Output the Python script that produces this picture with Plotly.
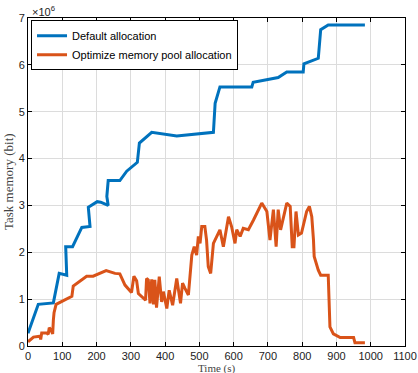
import plotly.graph_objects as go

# Time (s) and task memory (x10^6 bit)
default_t = [0, 30, 74, 91, 113, 110, 130, 157, 181, 176, 202, 212, 234, 230, 234, 268, 288, 319, 325, 361,
             434, 541, 546, 560, 653, 657, 730, 755, 803, 805, 847, 854, 876, 983]
default_v = [0.27, 0.89, 0.92, 1.55, 1.51, 2.12, 2.12, 2.53, 2.55, 2.96, 3.08, 3.07, 3.0, 3.19, 3.53, 3.53, 3.73, 3.92, 4.33, 4.56,
             4.48, 4.56, 5.18, 5.53, 5.53, 5.63, 5.73, 5.85, 5.85, 6.02, 6.14, 6.75, 6.85, 6.85]

opt_t = [0, 16, 35, 37, 40, 54, 59, 62, 67, 72, 74, 76, 82, 108, 128, 132, 171, 190, 228, 254, 268, 283, 298, 302,
         309, 317, 322, 337, 343, 346, 351, 356, 361, 366, 370, 375, 383, 390, 395, 405, 412, 422, 434, 445, 451,
         458, 468, 478, 485, 492, 497, 502, 507, 516, 521, 526, 533, 541, 560, 570, 585, 594, 604, 609, 619, 628,
         643, 658, 682, 697, 706, 716, 724, 730, 737, 755, 765, 771, 776, 782, 789, 798, 813, 821, 828, 833, 835,
         847, 854, 876, 881, 891, 911, 950, 954, 983]
opt_v = [0.09, 0.19, 0.21, 0.14, 0.28, 0.28, 0.25, 0.39, 0.34, 0.26, 0.55, 0.71, 0.89, 0.98, 1.06, 1.28, 1.49, 1.49,
         1.61, 1.55, 1.54, 1.30, 1.18, 1.14, 1.49, 1.39, 1.12, 1.01, 0.98, 1.44, 1.41, 0.91, 1.42, 0.89, 1.41, 0.82,
         1.48, 0.94, 1.16, 0.80, 1.19, 0.87, 1.44, 0.91, 1.34, 1.23, 1.09, 1.94, 2.12, 1.94, 2.34, 2.19, 2.55, 2.55,
         2.26, 1.69, 1.55, 2.19, 2.48, 2.12, 2.76, 2.55, 2.19, 2.48, 2.34, 2.51, 2.48, 2.69, 3.05, 2.87, 2.26, 2.91,
         2.12, 2.91, 2.48, 3.05, 2.98, 2.12, 2.12, 2.87, 2.37, 2.41, 2.87, 2.98, 2.76, 2.26, 1.91, 1.62, 1.51, 1.51,
         0.41, 0.26, 0.18, 0.18, 0.07, 0.07]

x_ticks = list(range(0, 1101, 100))
y_ticks = list(range(0, 8))

fig = go.Figure()
fig.add_trace(go.Scatter(x=default_t, y=default_v, mode="lines", name="Default allocation",
                         line=dict(color="#0072BD", width=3)))
fig.add_trace(go.Scatter(x=opt_t, y=opt_v, mode="lines", name="Optimize memory pool allocation",
                         line=dict(color="#D95319", width=3)))

axis_common = dict(showgrid=True, gridcolor="#DCDCDC", gridwidth=1, zeroline=False,
                   showline=True, linecolor="black", linewidth=1, mirror="ticks",
                   ticks="inside", ticklen=4, tickcolor="black", automargin=False,
                   tickfont=dict(family="Liberation Sans", size=11, color="#222"))

fig.update_layout(
    width=418, height=373,
    margin=dict(l=28, r=13, t=18, b=27),
    paper_bgcolor="white", plot_bgcolor="white",
    xaxis=dict(range=[0, 1100], tickvals=x_ticks, **axis_common),
    yaxis=dict(range=[0, 7], tickvals=y_ticks, **axis_common),
    legend=dict(x=0.008, y=0.993, xanchor="left", yanchor="top",
                bgcolor="white", bordercolor="black", borderwidth=1,
                font=dict(family="Liberation Sans", size=11, color="black"),
                tracegroupgap=0, itemwidth=30),
    showlegend=True,
)
fig.add_annotation(text="×10<sup>6</sup>", xref="paper", yref="paper", x=0.0, y=1.0,
                   xanchor="left", yanchor="bottom", showarrow=False, yshift=-2, xshift=2,
                   font=dict(family="Liberation Sans", size=11, color="#222"))
fig.add_annotation(text="Task memory (bit)", xref="paper", yref="paper", x=0, y=0.5,
                   xanchor="center", yanchor="middle", showarrow=False, textangle=-90, xshift=-20,
                   font=dict(family="Liberation Serif", size=13, color="#444"))
fig.add_annotation(text="Time (s)", xref="paper", yref="paper", x=0.5, y=0,
                   xanchor="center", yanchor="top", showarrow=False, yshift=-15, borderpad=0,
                   font=dict(family="Liberation Serif", size=11, color="#444"))

fig.write_html("out.html", config={"displayModeBar": False},
               post_script="document.body.style.margin='0';")
